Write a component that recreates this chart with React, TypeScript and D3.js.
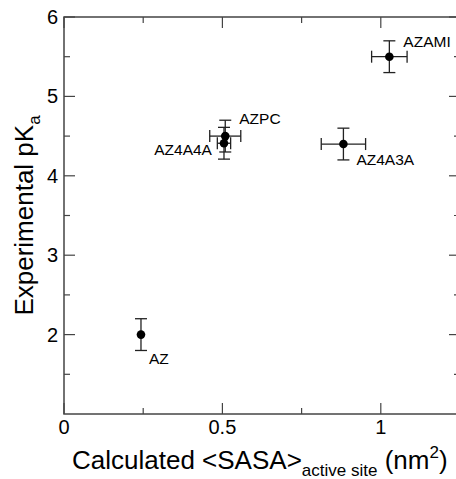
import React from "react";
import * as d3 from "d3";

// Per-compound measurements
const names = ["AZ", "AZ4A4A", "AZPC", "AZ4A3A", "AZAMI"];
const sasa = [0.243, 0.505, 0.509, 0.882, 1.027];
const sasaErr = [0, 0.021, 0.049, 0.07, 0.056];
const pka = [2.0, 4.41, 4.5, 4.4, 5.5];
const pkaErr = [0.2, 0.2, 0.2, 0.2, 0.2];

// Label placement relative to each point (px) and anchor
const labelDx = [8, -12, 14, 13, 14];
const labelDy = [29, 12, -12, 21, -10];
const labelAnchor = ["start", "end", "start", "start", "start"];

const xMajor = [0, 0.5, 1];
const xMinor = [0.25, 0.75];
const yMajor = [2, 3, 4, 5, 6];
const yMinor = [1.5, 2.5, 3.5, 4.5, 5.5];

const W = 456;
const H = 479;
const left = 64;
const right = 460;
const top = 17;
const bottom = 414;

export default function App() {
  const x = d3.scaleLinear().domain([0, 1.25]).range([left, right]);
  const y = d3.scaleLinear().domain([1, 6]).range([bottom, top]);
  const axisColor = "#444";
  const font = "'Liberation Sans', Arial, Helvetica, sans-serif";
  const majorLen = 11;
  const minorLen = 6;
  const cap = 6;

  return (
    <svg
      width={W}
      height={H}
      style={{ position: "absolute", left: 0, top: 0, background: "#fff" }}
      fontFamily={font}
    >
      {/* frame */}
      <rect
        x={left}
        y={top}
        width={right - left}
        height={bottom - top}
        fill="none"
        stroke={axisColor}
        strokeWidth={1.5}
      />
      {/* x ticks, bottom and top, inward */}
      {xMajor.map((v) => (
        <g key={"xM" + v}>
          <line x1={x(v)} x2={x(v)} y1={bottom} y2={bottom - majorLen} stroke={axisColor} strokeWidth={1.2} />
          <line x1={x(v)} x2={x(v)} y1={top} y2={top + majorLen} stroke={axisColor} strokeWidth={1.2} />
          <text x={x(v)} y={434} fontSize={20} textAnchor="middle" fill="#000">
            {v}
          </text>
        </g>
      ))}
      {xMinor.map((v) => (
        <g key={"xm" + v}>
          <line x1={x(v)} x2={x(v)} y1={bottom} y2={bottom - minorLen} stroke={axisColor} strokeWidth={1.2} />
          <line x1={x(v)} x2={x(v)} y1={top} y2={top + minorLen} stroke={axisColor} strokeWidth={1.2} />
        </g>
      ))}
      {/* y ticks, left and right, inward */}
      {yMajor.map((v) => (
        <g key={"yM" + v}>
          <line x1={left} x2={left + majorLen} y1={y(v)} y2={y(v)} stroke={axisColor} strokeWidth={1.2} />
          <line x1={right} x2={right - majorLen} y1={y(v)} y2={y(v)} stroke={axisColor} strokeWidth={1.2} />
          <text x={58} y={y(v) + 7} fontSize={20} textAnchor="end" fill="#000">
            {v}
          </text>
        </g>
      ))}
      {yMinor.map((v) => (
        <g key={"ym" + v}>
          <line x1={left} x2={left + minorLen} y1={y(v)} y2={y(v)} stroke={axisColor} strokeWidth={1.2} />
          <line x1={right} x2={right - minorLen} y1={y(v)} y2={y(v)} stroke={axisColor} strokeWidth={1.2} />
        </g>
      ))}

      {/* error bars and points */}
      {names.map((n, i) => {
        const cx = x(sasa[i]);
        const cy = y(pka[i]);
        const y0 = y(pka[i] - pkaErr[i]);
        const y1 = y(pka[i] + pkaErr[i]);
        const x0 = x(sasa[i] - sasaErr[i]);
        const x1 = x(sasa[i] + sasaErr[i]);
        return (
          <g key={n} stroke="#222" strokeWidth={1.3}>
            <line x1={cx} x2={cx} y1={y0} y2={y1} />
            <line x1={cx - cap} x2={cx + cap} y1={y0} y2={y0} />
            <line x1={cx - cap} x2={cx + cap} y1={y1} y2={y1} />
            {sasaErr[i] > 0 && (
              <>
                <line x1={x0} x2={x1} y1={cy} y2={cy} />
                <line x1={x0} x2={x0} y1={cy - cap} y2={cy + cap} />
                <line x1={x1} x2={x1} y1={cy - cap} y2={cy + cap} />
              </>
            )}
          </g>
        );
      })}
      {names.map((n, i) => (
        <circle key={"p" + n} cx={x(sasa[i])} cy={y(pka[i])} r={4.3} fill="#000" />
      ))}
      {names.map((n, i) => (
        <text
          key={"l" + n}
          x={x(sasa[i]) + labelDx[i]}
          y={y(pka[i]) + labelDy[i]}
          fontSize={15.5}
          textAnchor={labelAnchor[i]}
          fill="#000"
        >
          {n}
        </text>
      ))}

      {/* axis titles */}
      <text x={72} y={469} fontSize={26} fill="#000">
        Calculated &lt;SASA&gt;
        <tspan fontSize={17} dy={7}>active site</tspan>
        <tspan dy={-7}> (nm</tspan>
        <tspan fontSize={17} dy={-11}>2</tspan>
        <tspan dy={11}>)</tspan>
      </text>
      <text
        transform={`translate(33, ${(top + bottom) / 2}) rotate(-90)`}
        fontSize={26}
        textAnchor="middle"
        fill="#000"
      >
        Experimental pK
        <tspan fontSize={17} dy={7}>a</tspan>
      </text>
    </svg>
  );
}
